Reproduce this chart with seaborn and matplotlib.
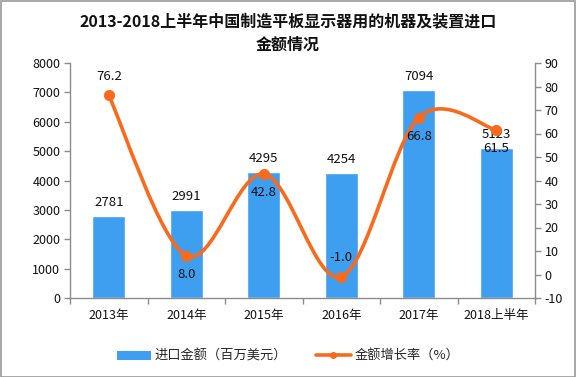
import numpy as np
import pandas as pd
import seaborn as sns
import matplotlib.pyplot as plt
from matplotlib.path import Path
from matplotlib.patches import PathPatch, Patch, Rectangle
from matplotlib.lines import Line2D

years = ['2013年', '2014年', '2015年', '2016年', '2017年', '2018上半年']
import_value = [2781, 2991, 4295, 4254, 7094, 5123]
growth_rate = [76.2, 8.0, 42.8, -1.0, 66.8, 61.5]
rate_label_pos = ['above', 'below', 'below', 'above', 'below', 'below']

bar_color = '#3e9ef0'
line_color = '#fa6a1c'
axis_color = '#8c8c8c'

sns.set_theme(style='white')
plt.rcParams['font.family'] = ['Noto Sans CJK SC', 'DejaVu Sans']
plt.rcParams['axes.unicode_minus'] = False

df = pd.DataFrame({'year': years, 'value': import_value, 'rate': growth_rate})

fig = plt.figure(figsize=(5.76, 3.77), dpi=100)
ax = fig.add_axes([70 / 576, 1 - 298 / 377, 465 / 576, 235 / 377])
sns.barplot(data=df, x='year', y='value', color=bar_color, width=0.42,
            saturation=1, ax=ax)
ax.set_xlim(-0.5, len(years) - 0.5)
ax.set_ylim(0, 8000)
ax.set_yticks(range(0, 8001, 1000))
ax.set_xlabel('')
ax.set_ylabel('')

for i, v in enumerate(import_value):
    ax.annotate(str(v), (i, v), xytext=(0, 5), textcoords='offset points',
                ha='center', va='bottom', fontsize=9.5, color='#111111')

ax2 = ax.twinx()
ax2.set_ylim(-10, 90)
ax2.set_yticks(range(-10, 91, 10))

# smoothed line (Catmull-Rom style cubic segments through the data points)
xs = np.arange(len(growth_rate), dtype=float)
ys = np.array(growth_rate, dtype=float)
px = np.concatenate([[xs[0]], xs, [xs[-1]]])
py = np.concatenate([[ys[0]], ys, [ys[-1]]])
verts = [(xs[0], ys[0])]
codes = [Path.MOVETO]
for k in range(1, len(px) - 2):
    c1 = (px[k] + (px[k + 1] - px[k - 1]) / 6, py[k] + (py[k + 1] - py[k - 1]) / 6)
    c2 = (px[k + 1] - (px[k + 2] - px[k]) / 6, py[k + 1] - (py[k + 2] - py[k]) / 6)
    verts += [c1, c2, (px[k + 1], py[k + 1])]
    codes += [Path.CURVE4] * 3
ax2.add_patch(PathPatch(Path(verts, codes), facecolor='none',
                        edgecolor=line_color, lw=2.6, zorder=3))
sns.scatterplot(x=xs, y=ys, color=line_color, s=55, edgecolor=line_color,
                zorder=4, ax=ax2, legend=False)

for i, (r, pos) in enumerate(zip(growth_rate, rate_label_pos)):
    dy = 9 if pos == 'above' else -9
    ax2.annotate(f'{r:.1f}', (i, r), xytext=(0, dy), textcoords='offset points',
                 ha='center', va='bottom' if pos == 'above' else 'top',
                 fontsize=9.5, color='#111111', zorder=5)

for a in (ax, ax2):
    for s in a.spines.values():
        s.set_color(axis_color)
        s.set_linewidth(1)
    a.spines['top'].set_visible(False)
    a.tick_params(axis='y', length=4, width=1, color=axis_color,
                  labelsize=9, labelcolor='#111111', pad=3)
    a.grid(False)
ax.spines['right'].set_visible(False)
ax2.spines['left'].set_visible(False)
ax2.spines['bottom'].set_visible(False)

ax.set_xticks(np.arange(-0.5, len(years), 1), minor=True)
ax.tick_params(axis='x', which='major', length=0, labelsize=9,
               labelcolor='#111111', pad=8)
ax.tick_params(axis='x', which='minor', length=4, width=1, color=axis_color,
               bottom=True)

fig.text(0.5, 0.912, '2013-2018上半年中国制造平板显示器用的机器及装置进口\n金额情况',
         ha='center', va='center', fontsize=11.5, fontweight='bold',
         linespacing=1.55, color='#111111')

handles = [Patch(facecolor=bar_color, edgecolor='none'),
           Line2D([], [], color=line_color, lw=2.6, marker='o', markersize=4)]
fig.legend(handles, ['进口金额（百万美元）', '金额增长率（%）'],
           loc='center', bbox_to_anchor=(0.5, 0.055), ncol=2, frameon=False,
           fontsize=9.5, handlelength=2.6, columnspacing=2.2, handletextpad=0.3)

fig.add_artist(Rectangle((0.001, 0.001), 0.997, 0.997, transform=fig.transFigure,
                         fill=False, edgecolor='#9a9a9a', lw=1.2))

fig.savefig('out.png', dpi=100)
